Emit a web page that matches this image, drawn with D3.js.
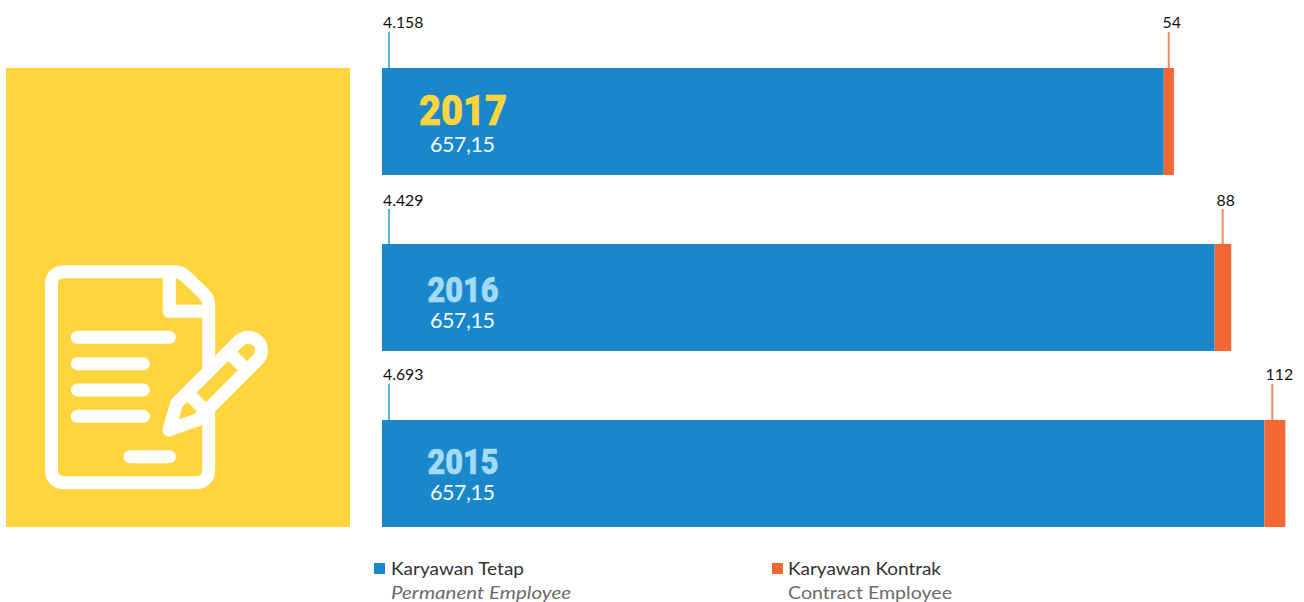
<!DOCTYPE html>
<html><head><meta charset="utf-8">
<script src="https://cdn.jsdelivr.net/npm/d3@7"></script>
<style>html,body{margin:0;padding:0;background:#fff;overflow:hidden}svg{display:block}text{font-family:Lato,sans-serif}</style>
</head><body><svg id="c" width="1304" height="602"></svg>
<script>
const years = ["2017","2016","2015"];
const permanent = [4158,4429,4693];
const contract = [54,88,112];
const permanentLabels = ["4.158","4.429","4.693"];
const contractLabels = ["54","88","112"];
const centerValues = ["657,15","657,15","657,15"];
const legendTitles = ["Karyawan Tetap","Karyawan Kontrak"];
const legendSubs = ["Permanent Employee","Contract Employee"];
const BLUE="#1A87CB", ORANGE="#F46733", YELLOW="#FFD53E";
const yearColors=["#FFD53E","#A3DBF7","#A3DBF7"];
const yearSizes=[42,35,35], yearWidths=[88,71,71], yearBase=[125,302,474], valBase=[152,328,500];
const labelBase=[28,206,380], leadTop=[32,209,384];

const svg=d3.select("#c");
const x=d3.scaleLinear().domain([0,4803]).range([382,1285]);
const y=d3.scalePoint().domain(years).range([68,420]);
const h=107;
svg.append("rect").attr("x",6).attr("y",68).attr("width",344).attr("height",459).attr("fill",YELLOW);
const ic=svg.append("g").attr("transform","translate(0,230) scale(0.3333)")
 .attr("fill","none").attr("stroke","#fff").attr("stroke-width",39).attr("stroke-linejoin","round");
ic.append("path").attr("d","M626,420 V225 Q626,205 612,192 L556,138 Q543,125 525,125 H195 Q154.5,125 154.5,165 V718 Q154.5,758 195,758 H586 Q626,758 626,718 V535");
ic.append("path").attr("d","M508,125 V244 H626");
ic.append("path").attr("stroke-linecap","round").attr("d","M232,322 H508 M232,401 H430 M232,480 H430 M232,559 H430 M390,680 H508");
ic.append("path").attr("fill",YELLOW).attr("d","M717,333 A39,39 0 0 1 773,389 L592,570 L507,600 L530,520 Z");
ic.append("path").attr("d","M685.5,365.5 L741,421 M562.5,488.5 L618,544");
const g=svg.selectAll("g.row").data(years).join("g").attr("class","row");
g.append("rect").attr("x",x(0)).attr("y",d=>y(d)).attr("height",h)
 .attr("width",(d,i)=>x(permanent[i])-x(0)).attr("fill",BLUE);
g.append("rect").attr("x",(d,i)=>x(permanent[i])).attr("y",d=>y(d)).attr("height",h)
 .attr("width",(d,i)=>x(permanent[i]+contract[i])-x(permanent[i])).attr("fill",ORANGE);
g.append("line").attr("x1",389).attr("x2",389).attr("y1",(d,i)=>leadTop[i]).attr("y2",d=>y(d))
 .attr("stroke","#5EB0E2").attr("stroke-width",2);
const leadOff=[5,8,8], lblOff=[8,11,15];
g.append("line").attr("x1",(d,i)=>x(permanent[i])+leadOff[i]).attr("x2",(d,i)=>x(permanent[i])+leadOff[i])
 .attr("y1",(d,i)=>leadTop[i]).attr("y2",d=>y(d)).attr("stroke","#F58B63").attr("stroke-width",2);
g.append("text").attr("x",383).attr("y",(d,i)=>labelBase[i]).attr("font-size",15.8).attr("fill","#111").text((d,i)=>permanentLabels[i]);
g.append("text").attr("x",(d,i)=>x(permanent[i])+lblOff[i]).attr("y",(d,i)=>labelBase[i]).attr("text-anchor","middle")
 .attr("font-size",15.8).attr("fill","#111").text((d,i)=>contractLabels[i]);
g.append("text").attr("x",(d,i)=>463-yearWidths[i]/2).attr("y",(d,i)=>yearBase[i])
 .style("font-family","Roboto").attr("font-weight",900).attr("font-size",(d,i)=>yearSizes[i])
 .attr("fill",(d,i)=>yearColors[i]).attr("stroke",(d,i)=>yearColors[i]).attr("stroke-width",0.6)
 .attr("textLength",(d,i)=>yearWidths[i]).attr("lengthAdjust","spacingAndGlyphs").text(d=>d);
g.append("text").attr("x",430).attr("y",(d,i)=>valBase[i]).attr("font-size",21.5).attr("fill","#F2F9FD")
 .attr("textLength",65).attr("lengthAdjust","spacing").text((d,i)=>centerValues[i]);
const lx=[374,772], tx=[391,788];
const l=svg.selectAll("g.leg").data(legendTitles).join("g").attr("class","leg");
l.append("rect").attr("x",(d,i)=>lx[i]).attr("y",563).attr("width",11).attr("height",11).attr("fill",(d,i)=>[BLUE,ORANGE][i]);
l.append("text").attr("x",(d,i)=>tx[i]).attr("y",575).attr("font-size",18).attr("fill","#333")
 .attr("textLength",(d,i)=>[133,153][i]).attr("lengthAdjust","spacingAndGlyphs").text(d=>d);
l.append("text").attr("x",(d,i)=>tx[i]).attr("y",599).attr("font-size",18).attr("fill","#6b6b6b").attr("font-style",(d,i)=>i?"normal":"italic")
 .attr("textLength",(d,i)=>[180,164][i]).attr("lengthAdjust","spacingAndGlyphs").text((d,i)=>legendSubs[i]);
</script></body></html>
